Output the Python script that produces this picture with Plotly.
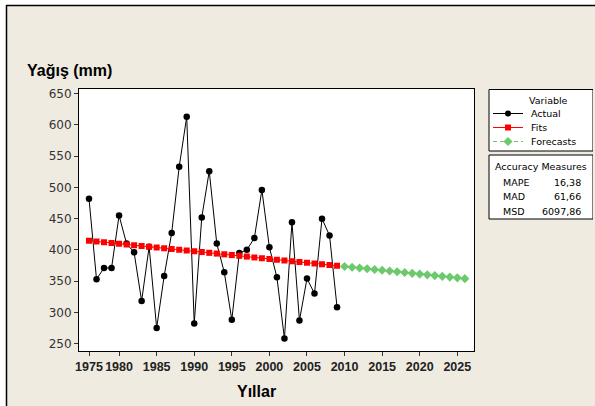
import plotly.graph_objects as go

# ---------------- data ----------------
actual = [482, 353, 371, 371, 455, 410, 396, 318, 405, 275, 358, 427, 533, 613,
          282, 452, 526, 410, 364, 288, 395, 400, 419, 496, 404, 356, 258, 444,
          287, 354, 330, 450, 423, 308]
fits = [414.7, 413.5, 412.3, 411.0, 409.8, 408.6, 407.4, 406.2, 405.0, 403.8,
        402.5, 401.3, 400.1, 398.9, 397.7, 396.5, 395.2, 394.0, 392.8, 391.6,
        390.4, 389.2, 387.9, 386.7, 385.5, 384.3, 383.1, 381.9, 380.7, 379.4,
        378.2, 377.0, 375.8, 374.6]
forecasts = [373.4, 372.2, 370.9, 369.7, 368.5, 367.3, 366.1, 364.9, 363.7,
             362.4, 361.2, 360.0, 358.8, 357.6, 356.4, 355.2, 353.9]
tick_index = [1, 5, 10, 15, 20, 25, 30, 35, 40, 45, 50]
tick_labels = ["1975", "1980", "1985", "1990", "1995", "2000", "2005",
               "2010", "2015", "2020", "2025"]
y_ticks = [250, 300, 350, 400, 450, 500, 550, 600, 650]
measure_names = ["MAPE", "MAD", "MSD"]
measure_values = ["16,38", "61,66", "6097,86"]

idx_actual = list(range(1, len(actual) + 1))
idx_fore = list(range(len(actual) + 1, len(actual) + len(forecasts) + 1))

# ---------------- styles ----------------
BEIGE = "#EFEBE1"
RED = "#FF0000"
GREEN = "#6CC96C"
W, H = 595, 406
ML, MR, MT, MB = 79, 2, 89, 55
PW, PH = W - ML - MR, H - MT - MB


def px(x):
    return (x - ML) / PW


def py(y):
    return (H - MB - y) / PH


fig = go.Figure()

fig.add_trace(go.Scatter(x=idx_actual, y=actual, mode="lines+markers",
                         line=dict(color="black", width=1),
                         marker=dict(color="black", size=6.5, symbol="circle"),
                         showlegend=False, xaxis="x", yaxis="y"))
fig.add_trace(go.Scatter(x=idx_actual, y=fits, mode="lines+markers",
                         line=dict(color=RED, width=1),
                         marker=dict(color=RED, size=6, symbol="square"),
                         showlegend=False, xaxis="x", yaxis="y"))
fig.add_trace(go.Scatter(x=idx_fore, y=forecasts, mode="lines+markers",
                         line=dict(color=GREEN, width=1, dash="dash"),
                         marker=dict(color=GREEN, size=7, symbol="diamond"),
                         showlegend=False, xaxis="x", yaxis="y"))

# legend glyphs on a pixel-mapped helper subplot
leg_rows = [("Actual", "black", "circle", "solid", 6, 113.5),
            ("Fits", RED, "square", "solid", 6, 127.5),
            ("Forecasts", GREEN, "diamond", "4px,3px", 7, 141.5)]
for name, col, sym, dash, sz, yy in leg_rows:
    fig.add_trace(go.Scatter(x=[493, 508, 523], y=[yy, yy, yy], mode="lines",
                             line=dict(color=col, width=1, dash=dash),
                             showlegend=False, hoverinfo="skip",
                             xaxis="x2", yaxis="y2"))
    fig.add_trace(go.Scatter(x=[508], y=[yy], mode="markers",
                             marker=dict(color=col, size=sz, symbol=sym),
                             showlegend=False, hoverinfo="skip",
                             xaxis="x2", yaxis="y2"))

main_dom = [0, px(474.3)]
fig.update_layout(
    width=W, height=H,
    margin=dict(l=ML, r=MR, t=MT, b=MB),
    paper_bgcolor=BEIGE, plot_bgcolor=BEIGE,
    xaxis=dict(domain=main_dom, range=[-0.33, 52.26], tickmode="array",
               tickvals=tick_index, ticktext=tick_labels, ticks="outside",
               ticklen=4, tickcolor="#333", showgrid=False, zeroline=False,
               showline=True, linecolor="black", linewidth=1, mirror=True,
               tickangle=0, automargin=False,
               tickfont=dict(family="Liberation Sans", size=12.5, color="#222",
                             weight="bold"), anchor="y"),
    yaxis=dict(range=[238.1, 657.5], tickmode="array", tickvals=y_ticks,
               ticks="outside", ticklen=4, tickcolor="#333", showgrid=False,
               zeroline=False, showline=True, linecolor="black", linewidth=1,
               mirror=True, automargin=False,
               tickfont=dict(family="DejaVu Sans", size=12, color="#333"),
               anchor="x"),
    xaxis2=dict(domain=[px(488), 1], range=[488, W - MR], visible=False,
                fixedrange=True, anchor="y2", automargin=False),
    yaxis2=dict(domain=[0, 1], range=[H - MB, MT], visible=False,
                fixedrange=True, anchor="x2", automargin=False),
)

shapes = []
# white data region
shapes.append(dict(type="rect", xref="x domain", yref="y domain", x0=0, x1=1,
                   y0=0, y1=1, fillcolor="white", line=dict(width=0),
                   layer="below"))
# legend boxes
shapes.append(dict(type="rect", xref="x2", yref="y2", x0=489, x1=593,
                   y0=89.5, y1=151, fillcolor="white",
                   line=dict(color="black", width=1), layer="below"))
shapes.append(dict(type="rect", xref="x2", yref="y2", x0=489, x1=593,
                   y0=155, y1=219, fillcolor="white",
                   line=dict(color="black", width=1), layer="below"))
# outer frame: white strip above/left, black border
shapes.append(dict(type="rect", xref="paper", yref="paper", x0=px(-10),
                   x1=px(W + 10), y0=py(5), y1=py(-10), fillcolor="white",
                   line=dict(width=0)))
shapes.append(dict(type="rect", xref="paper", yref="paper", x0=px(-10),
                   x1=px(6), y0=py(H + 10), y1=py(-10), fillcolor="white",
                   line=dict(width=0)))
shapes.append(dict(type="line", xref="paper", yref="paper", x0=px(6),
                   x1=px(W + 10), y0=py(5.5), y1=py(5.5),
                   line=dict(color="black", width=1.5)))
shapes.append(dict(type="line", xref="paper", yref="paper", x0=px(6.5),
                   x1=px(6.5), y0=py(5), y1=py(H + 10),
                   line=dict(color="black", width=1.5)))
fig.update_layout(shapes=shapes)

ann = []
ann.append(dict(text="<b>Yağış (mm)</b>", xref="paper", yref="paper",
                x=px(25), y=py(70), xanchor="left", yanchor="middle",
                showarrow=False, font=dict(family="Liberation Sans", size=16,
                                           color="black")))
ann.append(dict(text="<b>Yıllar</b>", xref="paper", yref="paper",
                x=px(256), y=py(391), xanchor="center", yanchor="middle",
                showarrow=False, font=dict(family="Liberation Sans", size=16,
                                           color="black")))
lf = dict(family="DejaVu Sans", size=9.5, color="black")
ann.append(dict(text="Variable", xref="x2", yref="y2", x=548, y=100,
                xanchor="center", yanchor="middle", showarrow=False, font=lf))
for name, col, sym, dash, sz, yy in leg_rows:
    ann.append(dict(text=name, xref="x2", yref="y2", x=529, y=yy,
                    xanchor="left", yanchor="middle", showarrow=False, font=lf))
ann.append(dict(text="Accuracy Measures", xref="x2", yref="y2", x=541, y=166.5,
                xanchor="center", yanchor="middle", showarrow=False, font=lf))
for i, (n, v) in enumerate(zip(measure_names, measure_values)):
    yy = 182.5 + 14.3 * i
    ann.append(dict(text=n, xref="x2", yref="y2", x=501, y=yy,
                    xanchor="left", yanchor="middle", showarrow=False, font=lf))
    ann.append(dict(text=v, xref="x2", yref="y2", x=583, y=yy,
                    xanchor="right", yanchor="middle", showarrow=False, font=lf))
fig.update_layout(annotations=ann)

# remove the browser's default 8px page margin so the figure sits at (0, 0)
fig.write_html("out.html",
               config={"displayModeBar": False},
               post_script="document.body.style.margin='0px';"
                           "document.body.style.padding='0px';")
